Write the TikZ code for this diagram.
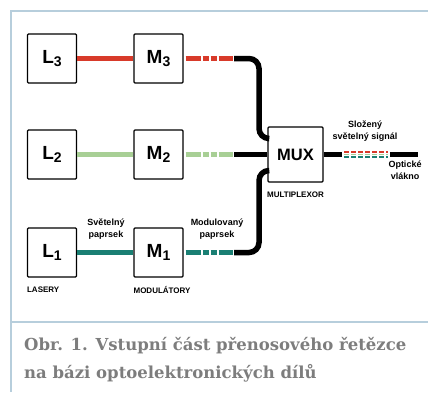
\documentclass[tikz,border=0pt]{standalone}
\usepackage{fontspec}
\setmainfont{Liberation Sans}
\newfontfamily\capfont{DejaVu Serif}
\usetikzlibrary{positioning, calc}
\definecolor{oeRed}{RGB}{216, 58, 42}
\definecolor{oeGreen}{RGB}{168, 207, 149}
\definecolor{oeTeal}{RGB}{26, 127, 115}
\definecolor{oeFrame}{RGB}{183, 206, 220}
\definecolor{oeGray}{RGB}{125, 125, 125}
\newcommand{\boxlab}[2]{#1\raisebox{-3.5pt}{\fontsize{14}{14}\selectfont #2}}

\begin{document}
\begin{tikzpicture}[x=1pt, y=-1pt, every node/.style={font=\bfseries\fontsize{9}{12}\selectfont},
    blok/.style={draw, line width=1.2pt, rounded corners=1pt, fill=white, minimum size=49pt, inner sep=0pt, font=\bfseries\fontsize{19}{19}\selectfont},
    beam/.style={draw=#1, line width=4.5pt},
    modul/.style={dash pattern=on 15pt off 2pt on 6pt off 2pt on 6pt off 2pt on 14pt, shorten <=2pt},
    fiber/.style={draw=black, line width=5.5pt, rounded corners=10pt}]
                    \useasboundingbox (0,0) rectangle (428,392);
                    % frame
                    \draw[oeFrame, line width=2.5pt] (428,11) -- (11,11) -- (11,392);
                    \draw[oeFrame, line width=2.5pt] (11,322) -- (428,322);
                    % multiplexor
                    \node[blok, minimum size=55pt, font=\bfseries\fontsize{16.5}{16.5}\selectfont] (mux) at (295.5,154.5) {MUX};
                    \node[below=9pt of mux, inner sep=0pt, font=\bfseries\fontsize{8}{9}\selectfont] (muxlab) {MULTIPLEXOR};
                    % lasers and modulators
                    \foreach \i/\y/\c in {3/58.5/oeRed, 2/154.5/oeGreen, 1/252.5/oeTeal} {
                        \node[blok] (l\i) at (52,\y) {\boxlab{L}{\i}};
                        \node[blok] (m\i) at (158.5,\y) {\boxlab{M}{\i}};
                        \coordinate (j\i) at (234,\y);
                        \draw[beam=\c] (l\i) -- (m\i);
                        \draw[beam=\c, modul] (m\i) -- (j\i);
                    }
                    % fibres into the multiplexor
                    \coordinate (in3) at ($(mux.west)+(0,-16)$);
                    \coordinate (in1) at ($(mux.west)+(0,16)$);
                    \coordinate (bx) at (259,0);
                    \draw[fiber] (j3) -- (j3 -| bx) -- (bx |- in3) -- (in3);
                    \draw[fiber] (j2) -- (mux.west);
                    \draw[fiber] (j1) -- (j1 -| bx) -- (bx |- in1) -- (in1);
                    % output
                    \coordinate (s1) at (342,154.5);
                    \coordinate (s2) at (388,154.5);
                    \coordinate (s3) at (390,154.5);
                    \coordinate (s4) at (418,154.5);
                    \draw[fiber] (mux.east) -- (s1);
                    \draw[oeRed, line width=2pt, dash pattern=on 5pt off 2pt] ($(s1)+(2,-2.2)$) -- ($(s2)+(0,-2.2)$);
                    \draw[oeGreen, line width=1.2pt, dash pattern=on 5pt off 2pt] ($(s1)+(2,0)$) -- (s2);
                    \draw[oeTeal, line width=2pt, dash pattern=on 5pt off 2pt] ($(s1)+(2,2.2)$) -- ($(s2)+(0,2.2)$);
                    \draw[fiber] (s3) -- (s4);
                    % labels
                    \node[align=center] (svet) at (106,229) {Světelný\\paprsek};
                    \node[align=center] (modp) at (217,229) {Modulovaný\\paprsek};
                    \node[align=center] (slozeny) at (365,131) {Složený\\světelný signál};
                    \node[align=center] (vlakno) at (405,170) {Optické\\vlákno};
                    \node[below=9pt of l1.south west, anchor=north west, inner sep=0pt, font=\bfseries\fontsize{8}{9}\selectfont] (lasery) {LASERY};
                    \node[below=9pt of m1.south west, anchor=north west, inner sep=0pt, font=\bfseries\fontsize{8}{9}\selectfont] (modulatory) {MODULÁTORY};
                    % caption
                    \node[anchor=base west, inner sep=0pt, text=oeGray, font=\capfont\bfseries\fontsize{16.5}{18}\selectfont] (popis1) at (24,350) {Obr. 1. Vstupní část přenosového řetězce};
                    \node[anchor=base west, inner sep=0pt, text=oeGray, font=\capfont\bfseries\fontsize{16.5}{18}\selectfont] (popis2) at (24,378) {na bázi optoelektronických dílů};
                \end{tikzpicture}
\end{document}
